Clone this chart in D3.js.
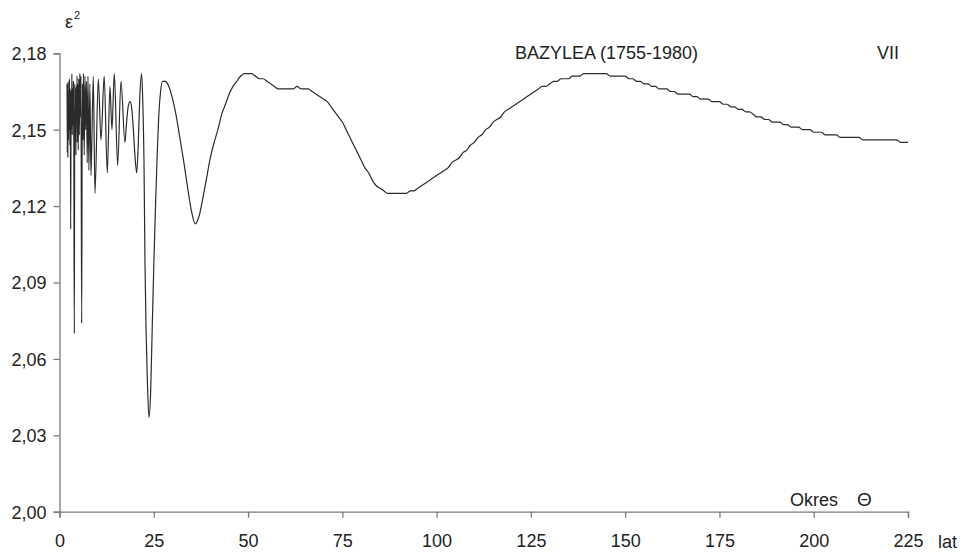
<!DOCTYPE html>
<html>
<head>
<meta charset="utf-8">
<script src="https://cdn.jsdelivr.net/npm/d3@7"></script>
<style>
  html, body { margin: 0; padding: 0; background: #fff; }
  svg { display: block; }
  text { font-family: "Liberation Sans", Arial, sans-serif; fill: #222; }
</style>
</head>
<body>
<svg id="chart" width="963" height="553"></svg>
<script>
// Residual variance ε² against trial period Θ (years), Basel 1755-1980, July.
// Short periods, sampled finely
const okresShort = [
  2.00, 2.07, 2.14, 2.22, 2.30, 2.38, 2.46, 2.55, 2.65, 2.75, 2.86, 2.97,
  3.08, 3.18, 3.28, 3.38, 3.48, 3.58, 3.68, 3.80, 3.93, 4.05, 4.15, 4.25,
  4.35, 4.45, 4.55, 4.65, 4.75, 4.85, 4.97, 5.10, 5.25, 5.40, 5.55, 5.68,
  5.88, 6.05, 6.20, 6.35, 6.55, 6.75, 6.95, 7.15, 7.35, 7.55, 7.80, 8.05,
  8.35, 8.96, 9.41, 10.29, 11.00, 11.85, 12.67, 13.38, 13.91, 14.53, 15.42, 16.30,
  17.36, 17.80, 18.20, 18.70, 19.10, 19.50, 20.00, 20.46, 20.90, 21.30, 21.78, 22.10,
  22.40, 22.66, 22.93, 23.27, 23.72, 24.17, 24.60, 25.05, 25.50, 25.90, 26.30, 26.80,
  27.30
];
const eps2Short = [
  2.168, 2.141, 2.167, 2.139, 2.169, 2.146, 2.163, 2.150, 2.170, 2.144, 2.166, 2.111,
  2.165, 2.150, 2.172, 2.148, 2.166, 2.152, 2.169, 2.146, 2.070, 2.168, 2.150, 2.166,
  2.140, 2.167, 2.153, 2.171, 2.145, 2.168, 2.142, 2.170, 2.148, 2.172, 2.155, 2.171,
  2.074, 2.168, 2.146, 2.172, 2.140, 2.171, 2.150, 2.169, 2.137, 2.171, 2.134, 2.168,
  2.132, 2.171, 2.125, 2.170, 2.146, 2.171, 2.133, 2.167, 2.150, 2.172, 2.136, 2.169,
  2.145, 2.153, 2.159, 2.161, 2.159, 2.152, 2.140, 2.133, 2.145, 2.163, 2.172, 2.160,
  2.138, 2.099, 2.073, 2.053, 2.037, 2.047, 2.073, 2.099, 2.122, 2.140, 2.155, 2.165,
  2.169
];
// Whole years 28..225
const okresLong = d3.range(28, 226);
const eps2Long = [
  2.169, 2.167, 2.162, 2.155, 2.146, 2.137, 2.127, 2.118, 2.113, 2.116, // 28-37
  2.123, 2.131, 2.139, 2.145, 2.150, 2.156, 2.160, 2.164, 2.167, 2.169, // 38-47
  2.171, 2.172, 2.172, 2.172, 2.171, 2.170, 2.170, 2.169, 2.168, 2.167, // 48-57
  2.166, 2.166, 2.166, 2.166, 2.166, 2.167, 2.166, 2.166, 2.166, 2.165, // 58-67
  2.164, 2.163, 2.162, 2.161, 2.159, 2.157, 2.155, 2.153, 2.150, 2.147, // 68-77
  2.144, 2.141, 2.138, 2.135, 2.133, 2.130, 2.128, 2.127, 2.126, 2.125, // 78-87
  2.125, 2.125, 2.125, 2.125, 2.125, 2.126, 2.126, 2.127, 2.128, 2.129, // 88-97
  2.130, 2.131, 2.132, 2.133, 2.134, 2.135, 2.137, 2.138, 2.139, 2.141, // 98-107
  2.142, 2.144, 2.145, 2.147, 2.148, 2.150, 2.151, 2.153, 2.154, 2.155, // 108-117
  2.157, 2.158, 2.159, 2.160, 2.161, 2.162, 2.163, 2.164, 2.165, 2.166, // 118-127
  2.167, 2.167, 2.168, 2.169, 2.169, 2.170, 2.170, 2.170, 2.171, 2.171, // 128-137
  2.171, 2.172, 2.172, 2.172, 2.172, 2.172, 2.172, 2.172, 2.171, 2.171, // 138-147
  2.171, 2.171, 2.171, 2.170, 2.170, 2.169, 2.169, 2.168, 2.168, 2.167, // 148-157
  2.167, 2.166, 2.166, 2.166, 2.165, 2.165, 2.164, 2.164, 2.164, 2.164, // 158-167
  2.163, 2.163, 2.162, 2.162, 2.162, 2.161, 2.161, 2.161, 2.160, 2.160, // 168-177
  2.159, 2.159, 2.158, 2.158, 2.157, 2.157, 2.156, 2.155, 2.155, 2.154, // 178-187
  2.154, 2.153, 2.153, 2.153, 2.152, 2.152, 2.151, 2.151, 2.151, 2.150, // 188-197
  2.150, 2.150, 2.149, 2.149, 2.149, 2.148, 2.148, 2.148, 2.148, 2.147, // 198-207
  2.147, 2.147, 2.147, 2.147, 2.147, 2.146, 2.146, 2.146, 2.146, 2.146, // 208-217
  2.146, 2.146, 2.146, 2.146, 2.146, 2.145, 2.145, 2.145                // 218-225
];
const xTicks = [0, 25, 50, 75, 100, 125, 150, 175, 200, 225];
const yTicks = [2.00, 2.03, 2.06, 2.09, 2.12, 2.15, 2.18];

const okres = okresShort.concat(okresLong);
const eps2 = eps2Short.concat(eps2Long);
const series = okres.map((t, i) => ({ t: t, v: eps2[i] }));

const svg = d3.select("#chart");
const x = d3.scaleLinear().domain([0, 225]).range([59.5, 908]);
const y = d3.scaleLinear().domain([2.00, 2.18]).range([511.7, 53.3]);
const fmt = v => d3.format(".2f")(v).replace(".", ",");

const axisColor = "#7a7a7a";

const gx = svg.append("g")
  .attr("transform", `translate(0,${y(2.00)})`)
  .call(d3.axisBottom(x).tickValues(xTicks).tickSize(6).tickPadding(17).tickFormat(d3.format("d")));
const gy = svg.append("g")
  .attr("transform", `translate(${x(0)},0)`)
  .call(d3.axisLeft(y).tickValues(yTicks).tickSize(6).tickPadding(7).tickFormat(fmt));

[gx, gy].forEach(g => {
  g.select(".domain").attr("stroke", axisColor).attr("stroke-width", 1.3);
  g.selectAll(".tick line").attr("stroke", axisColor).attr("stroke-width", 1.3);
  g.selectAll(".tick text")
    .attr("fill", "#222")
    .style("font-family", '"Liberation Sans", Arial, sans-serif')
    .style("font-size", "18px");
});
gy.selectAll(".tick text").attr("dy", "0.35em");

const line = d3.line()
  .x(d => x(d.t))
  .y(d => y(d.v))
  .curve(d3.curveMonotoneX);

svg.append("path")
  .datum(series)
  .attr("fill", "none")
  .attr("stroke", "#2b2b2b")
  .attr("stroke-width", 1.2)
  .attr("stroke-linejoin", "round")
  .attr("d", line);

// Labels
const yl = svg.append("text").attr("x", 65).attr("y", 28).style("font-size", "18px");
yl.append("tspan").text("ε");
yl.append("tspan").attr("dx", 1).attr("dy", -9).style("font-size", "11px").text("2");

svg.append("text").attr("x", 515).attr("y", 59).style("font-size", "18px").text("BAZYLEA (1755-1980)");
svg.append("text").attr("x", 877).attr("y", 59).style("font-size", "18px").text("VII");
svg.append("text").attr("x", 790).attr("y", 506).style("font-size", "18px").text("Okres");
svg.append("text").attr("x", 857).attr("y", 506).style("font-size", "19px").text("Θ");
svg.append("text").attr("x", 938).attr("y", 548).style("font-size", "18px").text("lat");
</script>
</body>
</html>
